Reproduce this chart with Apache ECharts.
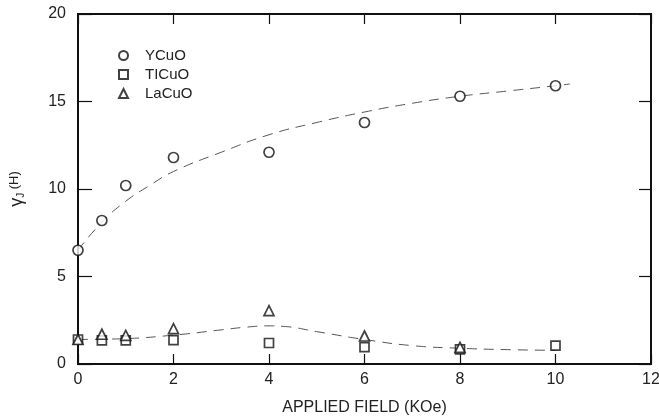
<!DOCTYPE html>
<html>
<head>
<meta charset="utf-8">
<script src="https://cdn.jsdelivr.net/npm/echarts@6/dist/echarts.min.js"></script>
<style>
html,body{margin:0;padding:0;background:#fff;}
#chart{width:659px;height:416px;}
</style>
</head>
<body>
<div id="chart"></div>
<script>
// Data
const fieldX = [0, 0.5, 1, 2, 4, 6, 8, 10];
const yCuO = [6.5, 8.2, 10.2, 11.8, 12.1, 13.8, 15.3, 15.9];
const tlCuO = [1.4, 1.35, 1.35, 1.37, 1.2, 0.97, 0.84, 1.05];
const laX = [0, 0.5, 1, 2, 4, 6, 8];
const laCuO = [1.4, 1.7, 1.64, 2.02, 3.05, 1.6, 0.95];

const upperFitX = [0, 0.5, 1, 1.5, 2, 3, 4, 5, 6, 7, 8, 9, 10, 10.3];
const upperFitY = [6.5, 8.1, 9.3, 10.2, 11.0, 12.1, 13.1, 13.8, 14.4, 14.9, 15.3, 15.6, 15.9, 16.0];
const lowerFitX = [0, 0.5, 1, 2, 3, 3.5, 4, 4.3, 5, 6, 7, 8, 9, 10];
const lowerFitY = [1.4, 1.42, 1.45, 1.65, 1.95, 2.1, 2.18, 2.15, 1.85, 1.4, 1.05, 0.9, 0.82, 0.78];

const xTicks = [0, 2, 4, 6, 8, 10, 12];
const yTicks = [0, 5, 10, 15, 20];

const pairs = (xs, ys) => xs.map((x, i) => [x, ys[i]]);

const chart = echarts.init(document.getElementById('chart'), null, {renderer: 'canvas'});
const font = 'Liberation Sans, Arial, sans-serif';
const markerStyle = {color: '#fff', borderColor: '#111', borderWidth: 1.7};

const option = {
  backgroundColor: '#fff',
  animation: false,
  grid: {left: 78, right: 8, top: 14, bottom: 52, show: true, borderColor: '#111', borderWidth: 2,
    containLabel: false, outerBoundsMode: 'none'},
  legend: {
    data: ['YCuO', 'TlCuO', 'LaCuO'],
    formatter: n => n === 'TlCuO' ? 'TICuO' : n,
    orient: 'vertical', left: 113, top: 43, itemGap: 4,
    itemWidth: 9, itemHeight: 9,
    textStyle: {fontFamily: font, fontSize: 15, color: '#222', padding: [0, 0, 0, 12]}
  },
  xAxis: [{
    type: 'value', min: 0, max: 12, interval: 2,
    name: 'APPLIED FIELD (KOe)', nameLocation: 'middle', nameGap: 36,
    nameTextStyle: {fontFamily: font, fontSize: 16, color: '#222'},
    axisLine: {show: true, onZero: false, lineStyle: {color: '#111', width: 2}},
    axisTick: {show: true, inside: true, length: 10, lineStyle: {color: '#111', width: 1.2}},
    axisLabel: {fontFamily: font, fontSize: 16, color: '#222', margin: 8,
      formatter: v => xTicks.includes(v) ? String(v) : ''},
    splitLine: {show: false}
  }, {
    type: 'value', min: 0, max: 12, interval: 2, position: 'top',
    axisLine: {show: false, onZero: false},
    axisTick: {show: true, inside: true, length: 10, lineStyle: {color: '#111', width: 1.2}},
    axisLabel: {show: false}, splitLine: {show: false}
  }],
  yAxis: [{
    type: 'value', min: 0, max: 20, interval: 5,
    name: '{g|γ}{s|J}{n| (H)}', nameLocation: 'middle', nameGap: 52, nameRotate: 90,
    nameTextStyle: {fontFamily: font, color: '#222',
      rich: {
        g: {fontSize: 18, fontFamily: font, color: '#222'},
        s: {fontSize: 10, fontFamily: font, color: '#222', verticalAlign: 'bottom', padding: [8, 0, 0, 0]},
        n: {fontSize: 13, fontFamily: font, color: '#222', padding: [0, 0, 5, 0]}
      }},
    axisLine: {show: true, onZero: false, lineStyle: {color: '#111', width: 2}},
    axisTick: {show: true, inside: true, length: 14, lineStyle: {color: '#111', width: 1.2}},
    axisLabel: {fontFamily: font, fontSize: 16, color: '#222', margin: 12,
      formatter: v => yTicks.includes(v) ? String(v) : ''},
    splitLine: {show: false}
  }, {
    type: 'value', min: 0, max: 20, interval: 5, position: 'right',
    axisLine: {show: false, onZero: false},
    axisTick: {show: true, inside: true, length: 12, lineStyle: {color: '#111', width: 1.2}},
    axisLabel: {show: false}, splitLine: {show: false}
  }],
  series: [
    {name: 'upperFit', type: 'line', smooth: true, showSymbol: false, silent: true,
      data: pairs(upperFitX, upperFitY), z: 1,
      lineStyle: {color: '#555', width: 1, type: [10, 7]}},
    {name: 'lowerFit', type: 'line', smooth: true, showSymbol: false, silent: true,
      data: pairs(lowerFitX, lowerFitY), z: 1,
      lineStyle: {color: '#555', width: 1, type: [10, 7]}},
    {name: 'YCuO', type: 'scatter', symbol: 'circle', symbolSize: 10,
      data: pairs(fieldX, yCuO), itemStyle: markerStyle, z: 3},
    {name: 'TlCuO', type: 'scatter', symbol: 'rect', symbolSize: 9,
      data: pairs(fieldX, tlCuO), itemStyle: markerStyle, z: 3},
    {name: 'LaCuO', type: 'scatter', symbol: 'triangle', symbolSize: 10,
      data: pairs(laX, laCuO), itemStyle: markerStyle, z: 4}
  ]
};
chart.setOption(option);
</script>
</body>
</html>
